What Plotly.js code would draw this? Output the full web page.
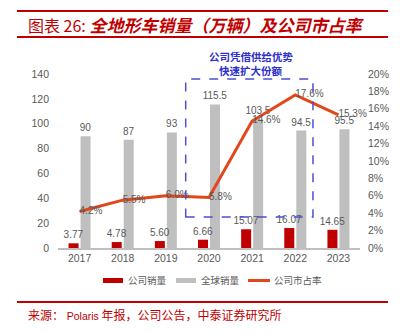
<!DOCTYPE html>
<html><head><meta charset="utf-8">
<script src="https://cdn.plot.ly/plotly-3.0.1.min.js"></script>
<style>
html,body{margin:0;padding:0;background:#fff}
#wrap{position:relative;width:404px;height:333px}
#chart{position:absolute;left:0;top:0;width:404px;height:333px}
.deco{position:absolute;z-index:10;pointer-events:none}
</style>
</head><body><div id="wrap"><div id="chart"></div></div>
<script>
const years = ['2017','2018','2019','2020','2021','2022','2023'];
const companySales = [3.77, 4.78, 5.60, 6.66, 15.07, 16.07, 14.65];
const globalSales = [90, 87, 93, 115.5, 103.5, 94.5, 95.5];
const marketShare = [4.2, 5.5, 6.0, 5.8, 14.6, 17.6, 15.3];
const names = ['公司销量', '全球销量', '公司市占率'];

const FONT = 'Liberation Sans, Arial, sans-serif';
const CJK = 'Noto Sans CJK SC, sans-serif';
const GREY = '#595959';
const RED = '#C00000';
const LINEC = '#E2461A';
const BARGREY = '#BFBFBF';
const W = 404, H = 333;

const traces = [
  {type:'bar', name:names[1], x:years, y:globalSales, marker:{color:BARGREY},
   offset:0.023, width:0.232,
   text:globalSales.map(v=>String(v)), textposition:'outside', constraintext:'none',
   textfont:{family:FONT,size:10,color:GREY}, cliponaxis:false, hoverinfo:'none', showlegend:false},
  {type:'bar', name:names[0], x:years, y:companySales, marker:{color:RED},
   offset:-0.255, width:0.232,
   text:companySales.map(v=>v.toFixed(2)), textposition:'outside', constraintext:'none',
   textfont:{family:FONT,size:10,color:GREY}, cliponaxis:false, hoverinfo:'none', showlegend:false},
  {type:'scatter', mode:'lines+text', name:names[2], x:years, y:marketShare, yaxis:'y2',
   line:{color:LINEC, width:3}, text:marketShare.map(v=>v.toFixed(1)+'%'),
   textposition:'middle right', textfont:{family:FONT,size:10,color:GREY}, cliponaxis:false,
   hoverinfo:'none', showlegend:false},
  {type:'scatter', mode:'none', x:[], y:[], xaxis:'x3', yaxis:'y3', showlegend:false, hoverinfo:'none'}
];

const legendItems = [
  {y0:278, y1:283, color:RED, x0:103, x1:123, tx:126, label:names[0]},
  {y0:278, y1:283, color:BARGREY, x0:176, x1:196, tx:199, label:names[1]},
  {y0:279, y1:282, color:LINEC, x0:248, x1:270, tx:272, label:names[2]}
];
const rules = [[17, 388, 10, 12], [17, 388, 35.5, 37.5], [17, 388, 301, 303]];

// decorative page rules and legend swatches as plain page elements
const wrap = document.getElementById('wrap');
const addBox = (x0, x1, y0, y1, color) => {
  const d = document.createElement('div');
  d.className = 'deco';
  d.style.left = x0 + 'px'; d.style.top = y0 + 'px';
  d.style.width = (x1 - x0) + 'px'; d.style.height = (y1 - y0) + 'px';
  d.style.background = color;
  wrap.appendChild(d);
};
rules.forEach(r => addBox(r[0], r[1], r[2], r[3], RED));
legendItems.forEach(it => addBox(it.x0, it.x1, it.y0, it.y1, it.color));

const shapes = [
  {type:'rect', xref:'x', yref:'y', x0:2.46, x1:5.41, y0:25, y1:136, line:{color:'#4F4FD0',width:1.5,dash:'dash'}, fillcolor:'rgba(0,0,0,0)'}
];
const annotations = [
  {xref:'x3', yref:'y3', x:26, y:24, xanchor:'left', yanchor:'middle', showarrow:false,
   text:'图表 26: <span style="font-size:17px"><b><i>全地形车销量（万辆）及公司市占率</i></b></span>', font:{family:CJK,size:16,color:RED}},
  {xref:'x3', yref:'y3', x:251, y:56, xanchor:'center', yanchor:'middle', showarrow:false,
   text:'<b>公司凭借供给优势</b>', font:{family:CJK,size:10.5,color:'#2E2ECC'}},
  {xref:'x3', yref:'y3', x:251, y:70.5, xanchor:'center', yanchor:'middle', showarrow:false,
   text:'<b>快速扩大份额</b>', font:{family:CJK,size:10.5,color:'#2E2ECC'}},
  {xref:'x3', yref:'y3', x:26, y:314, xanchor:'left', yanchor:'middle', showarrow:false,
   text:'来源： <span style="font-family:Liberation Sans, Arial;font-size:10.5px">Polaris</span> 年报，公司公告，中泰证券研究所', font:{family:CJK,size:12,color:RED}}
];
legendItems.forEach(it => {
  annotations.push({xref:'x3', yref:'y3', x:it.tx, y:280, xanchor:'left', yanchor:'middle', showarrow:false,
                    text:it.label, font:{family:CJK,size:9.5,color:GREY}});
});

const layout = {
  width:W, height:H, paper_bgcolor:'#fff', plot_bgcolor:'rgba(0,0,0,0)',
  margin:{l:0, r:0, t:0, b:0}, showlegend:false,
  barmode:'overlay',
  font:{family:FONT, color:GREY, size:10},
  xaxis:{type:'category', domain:[58/W, 360/W], anchor:'y', showgrid:false, showline:true, linecolor:BARGREY, linewidth:1.5,
         ticks:'', tickfont:{family:FONT,size:10.5,color:GREY}, zeroline:false},
  yaxis:{domain:[(H-248)/H, (H-74)/H], anchor:'x', range:[0,140], dtick:20, showgrid:false, zeroline:false, showline:false, ticks:'',
         ticklabelstandoff:8, tickfont:{family:FONT,size:10.5,color:GREY}},
  yaxis2:{range:[0,20], dtick:2, overlaying:'y', side:'right', anchor:'x', showgrid:false, zeroline:false,
          showline:false, ticks:'', ticksuffix:'%', ticklabelstandoff:7,
          tickfont:{family:FONT,size:10.5,color:GREY}},
  xaxis3:{domain:[0,1], range:[0,W], anchor:'y3', showgrid:false, zeroline:false, showline:false, showticklabels:false, ticks:'', fixedrange:true},
  yaxis3:{domain:[0,1], range:[H,0], anchor:'x3', showgrid:false, zeroline:false, showline:false, showticklabels:false, ticks:'', fixedrange:true},
  shapes:shapes,
  annotations:annotations
};
Plotly.newPlot('chart', traces, layout, {displayModeBar:false, staticPlot:true});
</script></body></html>
